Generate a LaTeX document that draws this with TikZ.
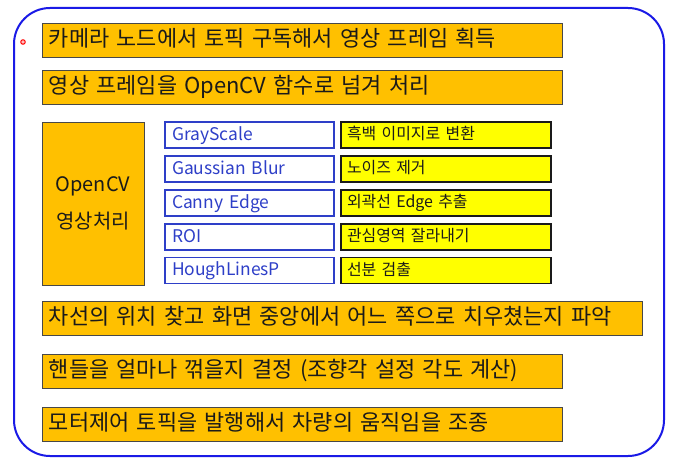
\documentclass[tikz,border=0pt]{standalone}
\usepackage{fontspec}
\setmainfont{Noto Sans CJK KR}
\usetikzlibrary{calc}
\definecolor{stepamber}{HTML}{FFC000}
\definecolor{noteyellow}{HTML}{FFFF00}
\definecolor{frameblue}{HTML}{1A1AE6}
\definecolor{funcblue}{HTML}{2E3FC8}
\definecolor{ink}{HTML}{1A1A1A}

\begin{document}
\begin{tikzpicture}[
    x=1bp, y=-1bp,
    every node/.style={text=ink},
    % Main step box
    stepbox/.style={rectangle, draw=ink!80, line width=0.8pt, fill=stepamber,
                    minimum height=34bp, inner xsep=7bp, inner ysep=0pt, align=left,
                    text height=17bp, text depth=4bp,
                    font=\fontsize{22}{24}\selectfont},
    % OpenCV function box
    funcbox/.style={rectangle, draw=funcblue, line width=1.3pt, fill=white,
                    minimum width=169bp, minimum height=26bp, text width=155bp,
                    inner xsep=7bp, inner ysep=0pt, align=left, text=funcblue,
                    text height=13.6bp, text depth=3.2bp,
                    font=\fontsize{17.5}{19}\selectfont},
    % Function description
    notebox/.style={rectangle, draw=ink, line width=1.3pt, fill=noteyellow,
                    minimum width=210bp, minimum height=26bp, text width=198bp,
                    inner xsep=6bp, inner ysep=0pt, align=left,
                    text height=12.5bp, text depth=2.9bp,
                    font=\fontsize{16}{18}\selectfont}
]
\useasboundingbox (0,0) rectangle (683,467);

% ---------- Outer frame ----------
\draw[frameblue, line width=2bp, rounded corners=36bp] (14,8) rectangle (664,456);
\node[circle, draw=red, line width=1pt, fill=red!25, inner sep=0pt, minimum size=4.5bp] (dot) at (23,42) {};

% ---------- Top steps ----------
\node[stepbox, minimum width=520bp, text width=506bp] at (302,40) (cam) {카메라 노드에서 토픽 구독해서 영상 프레임 획득};
\node[stepbox, minimum width=520bp, text width=506bp] at (302,87.5) (conv) {영상 프레임을 OpenCV 함수로 넘겨 처리};

% ---------- OpenCV block ----------
\node[stepbox, minimum width=102bp, minimum height=163bp, align=center,
      text height=, text depth=,
      font=\fontsize{20}{37}\selectfont] at (93,203.5) (opencv) {OpenCV\\영상처리};

% functions
\node[funcbox] at (249.5,135) (gray) {GrayScale};
\node[funcbox] at (249.5,169) (gauss) {Gaussian Blur};
\node[funcbox] at (249.5,203) (canny) {Canny Edge};
\node[funcbox] at (249.5,237) (roi) {ROI};
\node[funcbox] at (249.5,270.5) (hough) {HoughLinesP};

% descriptions
\node[notebox] at (446,135) (grayd) {흑백 이미지로 변환};
\node[notebox] at (446,169) (gaussd) {노이즈 제거};
\node[notebox] at (446,203) (cannyd) {외곽선 Edge 추출};
\node[notebox] at (446,237) (roid) {관심영역 잘라내기};
\node[notebox] at (446,270.5) (houghd) {선분 검출};

% ---------- Bottom steps ----------
\node[stepbox, minimum width=600bp, text width=586bp] at (342,318.5) (lane) {차선의 위치 찾고 화면 중앙에서 어느 쪽으로 치우쳤는지 파악};
\node[stepbox, minimum width=520bp, text width=506bp] at (302,371) (steer) {핸들을 얼마나 꺾을지 결정 (조향각 설정 각도 계산)};
\node[stepbox, minimum width=520bp, text width=506bp] at (302,424) (motor) {모터제어 토픽을 발행해서 차량의 움직임을 조종};

\end{tikzpicture}
\end{document}
